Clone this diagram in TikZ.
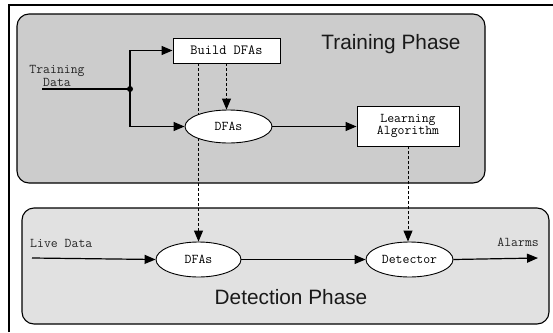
\documentclass[tikz,border=0pt]{standalone}
\usepackage{fontspec}
\setmainfont{Liberation Sans}
\usetikzlibrary{shapes.geometric,arrows.meta}
\pgfdeclarelayer{back}
\pgfdeclarelayer{background}
\pgfsetlayers{back,background,main}
\definecolor{traingray}{RGB}{204,204,204}
\definecolor{detgray}{RGB}{225,225,225}
\newcommand{\monosz}{\ttfamily\fontsize{13.4}{11}\selectfont}
\tikzset{
  phase/.style={draw=black,line width=1.1pt,rounded corners=12pt},
  boxnode/.style={draw=black,fill=white,line width=0.9pt,font=\monosz,inner sep=0pt,align=center},
  ellnode/.style={ellipse,draw=black,fill=white,line width=0.9pt,font=\monosz,inner sep=0pt},
  flow/.style={line width=1.2pt,-{Triangle[length=11pt,width=9pt]}},
  plain/.style={line width=1.2pt},
  dashline/.style={line width=1pt,dash pattern=on 3pt off 2pt,-{Triangle[length=11pt,width=9pt]}},
  lbl/.style={font=\ttfamily\fontsize{13.4}{10.5}\selectfont,inner sep=0pt,text=black!85,align=center},
  phasetxt/.style={font=\fontsize{20.8}{24}\selectfont,inner sep=0pt,text=black!90}
}
\begin{document}
\begin{tikzpicture}[x=1pt,y=-1pt]
\useasboundingbox (0,0) rectangle (553,332);
% outer frame (only top and left edges visible)
\draw[line width=2pt] (9,332) -- (9,5) -- (553,5);
\begin{pgfonlayer}{back}
\draw[phase,fill=traingray] (17,14) rectangle (485,183);
\draw[phase,fill=detgray] (22,208) rectangle (549,324);
\end{pgfonlayer}
\node[phasetxt] (tp) at (391,44) {Training Phase};
\node[phasetxt] (dp) at (291,297) {Detection Phase};
% nodes
\node[boxnode,minimum width=107pt,minimum height=25pt,font=\ttfamily\fontsize{14}{12}\selectfont] (build) at (226.5,50.5) {Build DFAs};
\node[ellnode,minimum width=87pt,minimum height=33pt] (dfa1) at (228.5,126.5) {DFAs};
\node[boxnode,minimum width=102pt,minimum height=40pt] (learn) at (408,126) {Learning\\Algorithm};
\node[ellnode,minimum width=85pt,minimum height=35pt] (dfa2) at (198.5,259.5) {DFAs};
\node[ellnode,minimum width=87pt,minimum height=35pt] (det) at (409.5,259.5) {Detector};
\coordinate (j) at (130,89);
\coordinate (td) at (42,89);
\coordinate (live) at (32,258);
\coordinate (alarm) at (538,258);
\node[lbl] (tdl) at (57,76) {Training\\Data};
\node[lbl,anchor=west] (ldl) at (30,243) {Live Data};
\node[lbl,anchor=east] (all) at (539,242) {Alarms};
% connectors
\draw[plain] (td) -- (j);
\fill (j) circle (3pt);
\draw[flow] (j) |- (build.west);
\draw[flow] (j) |- (dfa1.west);
\draw[dashline] (build.south) -- (build.south |- dfa1.north);
\begin{pgfonlayer}{background}
\draw[dashline] (dfa2.north |- build.south) -- (dfa2.north);
\end{pgfonlayer}
\draw[flow] (dfa1.east) -- (learn.west |- dfa1.east);
\draw[dashline] (learn.south) -- (learn.south |- det.north);
\draw[flow] (live) -- (dfa2.west);
\draw[flow] (dfa2.east) -- (det.west);
\draw[flow] (det.east) -- (alarm);
\end{tikzpicture}
\end{document}
